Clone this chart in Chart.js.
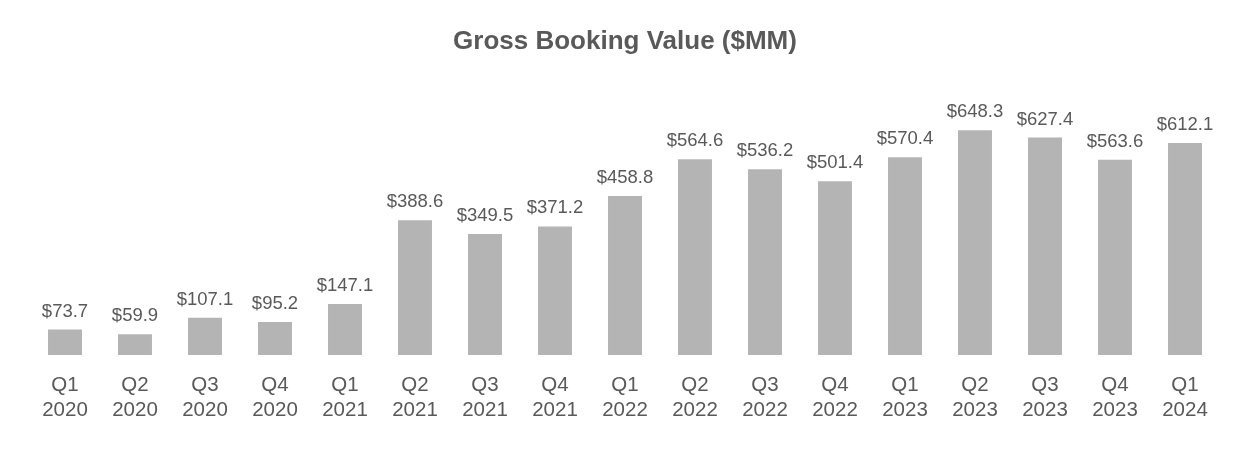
<!DOCTYPE html>
<html>
<head>
<meta charset="utf-8">
<title>Gross Booking Value</title>
<script src="https://cdn.jsdelivr.net/npm/chart.js@4.4.0/dist/chart.umd.min.js"></script>
<style>
    html, body { margin: 0; padding: 0; background: #fff; }
    #wrap { width: 1250px; height: 450px; }
</style>
</head>
<body>
<div id="wrap"><canvas id="gbv-chart" width="1250" height="450"></canvas></div>
<script>
// quarters and gross booking value ($MM)
var quarters = ['Q1', 'Q2', 'Q3', 'Q4', 'Q1', 'Q2', 'Q3', 'Q4', 'Q1', 'Q2', 'Q3', 'Q4', 'Q1', 'Q2', 'Q3', 'Q4', 'Q1'];
var years = ['2020', '2020', '2020', '2020', '2021', '2021', '2021', '2021', '2022', '2022', '2022', '2022', '2023', '2023', '2023', '2023', '2024'];
var bookingValues = [73.7, 59.9, 107.1, 95.2, 147.1, 388.6, 349.5, 371.2, 458.8, 564.6, 536.2, 501.4, 570.4, 648.3, 627.4, 563.6, 612.1];

(function() {
    'use strict';

    var textColor = '#595959';
    var fontFamily = '"Liberation Sans", Arial, sans-serif';

    var labels = [];
    for (var i = 0; i < quarters.length; i++) {
        labels.push([quarters[i], years[i]]);
    }

    // value labels above each bar
    var valueLabels = {
        id: 'valueLabels',
        afterDatasetsDraw: function(chart) {
            var ctx = chart.ctx;
            var meta = chart.getDatasetMeta(0);
            ctx.save();
            ctx.fillStyle = textColor;
            ctx.font = '18.5px ' + fontFamily;
            ctx.textAlign = 'center';
            ctx.textBaseline = 'middle';
            meta.data.forEach(function(bar, idx) {
                ctx.fillText('$' + bookingValues[idx].toFixed(1), bar.x, bar.y - 18);
            });
            ctx.restore();
        }
    };

    new Chart(document.getElementById('gbv-chart'), {
        type: 'bar',
        data: {
            labels: labels,
            datasets: [{
                label: 'Gross Booking Value ($MM)',
                data: bookingValues,
                backgroundColor: '#b4b4b4',
                borderWidth: 0,
                barPercentage: 0.97,
                categoryPercentage: 0.5
            }]
        },
        options: {
            responsive: false,
            animation: false,
            layout: {
                padding: { left: 30, right: 30, top: 0, bottom: 9 }
            },
            plugins: {
                legend: { display: false },
                tooltip: { enabled: false },
                title: {
                    display: true,
                    text: 'Gross Booking Value ($MM)',
                    color: textColor,
                    font: { family: fontFamily, size: 26, weight: 'bold' },
                    padding: { top: 26, bottom: 22 }
                }
            },
            scales: {
                x: {
                    grid: { display: false, drawTicks: false },
                    border: { display: false },
                    ticks: {
                        color: textColor,
                        padding: 18,
                        maxRotation: 0,
                        font: { family: fontFamily, size: 20.5, lineHeight: 1.22 }
                    }
                },
                y: {
                    display: false,
                    min: 0,
                    max: 796
                }
            }
        },
        plugins: [valueLabels]
    });
})();
</script>
</body>
</html>
